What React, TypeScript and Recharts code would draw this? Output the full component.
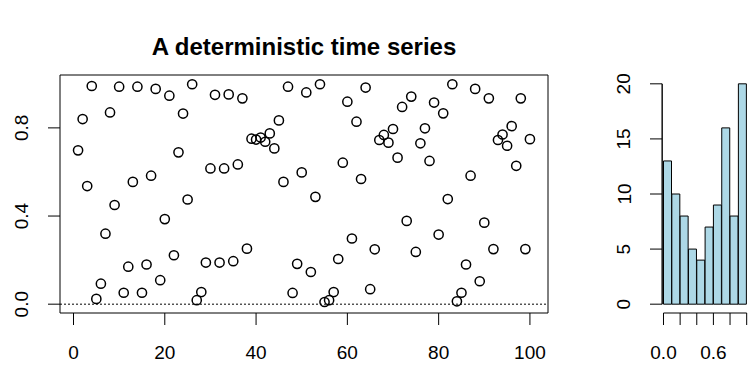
import {
  ScatterChart,
  Scatter,
  BarChart,
  Bar,
  XAxis,
  YAxis,
  ReferenceLine,
  ReferenceArea,
} from 'recharts';

// logistic-looking series
const seriesValues = [
  0.698, 0.84, 0.536, 0.99, 0.024, 0.093, 0.32, 0.87, 0.45, 0.987,
  0.052, 0.17, 0.555, 0.987, 0.052, 0.18, 0.583, 0.977, 0.109, 0.386,
  0.946, 0.222, 0.689, 0.865, 0.475, 0.998, 0.018, 0.055, 0.189, 0.616,
  0.95, 0.189, 0.616, 0.952, 0.195, 0.634, 0.934, 0.252, 0.751, 0.747,
  0.756, 0.737, 0.775, 0.707, 0.834, 0.555, 0.987, 0.051, 0.183, 0.598,
  0.961, 0.146, 0.487, 0.998, 0.01, 0.018, 0.055, 0.205, 0.642, 0.919,
  0.298, 0.828, 0.568, 0.983, 0.068, 0.249, 0.745, 0.768, 0.733, 0.795,
  0.665, 0.895, 0.378, 0.942, 0.237, 0.73, 0.798, 0.65, 0.915, 0.316,
  0.866, 0.477, 0.998, 0.013, 0.052, 0.18, 0.583, 0.977, 0.104, 0.37,
  0.934, 0.25, 0.745, 0.77, 0.719, 0.808, 0.628, 0.934, 0.25, 0.749,
];

const xTicks = [0, 20, 40, 60, 80, 100];
const yTicks = [0, 0.4, 0.8];
const yTickLabels = ['0.0', '0.4', '0.8'];

const binStarts = [0, 0.1, 0.2, 0.3, 0.4, 0.5, 0.6, 0.7, 0.8, 0.9];
const binCounts = [13, 10, 8, 5, 4, 7, 9, 16, 8, 20];
const histXTicks = [0, 0.2, 0.4, 0.6, 0.8, 1.0];
const histXLabels = ['0.0', '', '', '0.6', '', ''];
const histYTicks = [0, 5, 10, 15, 20];

const FONT = '"Liberation Sans", Arial, Helvetica, sans-serif';
const TICK_FONT = 19;

const points = seriesValues.map((v, i) => ({ t: i + 1, v }));
const histData = binStarts.map((start, i) => ({
  bin: String(i),
  mid: start + 0.05,
  count: binCounts[i],
}));

function OpenCircle(props: any) {
  const { cx, cy } = props;
  return <circle cx={cx} cy={cy} r={4.6} fill="none" stroke="#000" strokeWidth={1.5} />;
}

function RotatedTick(labels: (string | number)[]) {
  return (props: any) => {
    const { x, y, index } = props;
    const cx = x - 26;
    return (
      <text
        x={cx}
        y={y}
        transform={`rotate(-90, ${cx}, ${y})`}
        textAnchor="middle"
        dominantBaseline="central"
        fontFamily={FONT}
        fontSize={TICK_FONT}
        fill="#000"
      >
        {labels[index]}
      </text>
    );
  };
}

function BottomTick(labels: (string | number)[]) {
  return (props: any) => {
    const { x, y, index } = props;
    return (
      <text
        x={x}
        y={y + 27}
        textAnchor="middle"
        dominantBaseline="central"
        fontFamily={FONT}
        fontSize={TICK_FONT}
        fill="#000"
      >
        {labels[index]}
      </text>
    );
  };
}

export default function App() {
  return (
    <div style={{ position: 'absolute', left: 0, top: 0, width: 751, height: 366, background: '#fff' }}>
      <div
        style={{
          position: 'absolute',
          left: 60,
          width: 488,
          top: 32,
          textAlign: 'center',
          fontFamily: FONT,
          fontWeight: 'bold',
          fontSize: 24,
          lineHeight: '30px',
          color: '#000',
        }}
      >
        A deterministic time series
      </div>

      <div style={{ position: 'absolute', left: 0, top: 0 }}>
        <ScatterChart width={560} height={366} margin={{ top: 75, right: 12, bottom: 13, left: 10 }}>
          <XAxis
            dataKey="t"
            type="number"
            domain={[-2.96, 103.96]}
            ticks={xTicks}
            interval={0}
            axisLine={false}
            tickSize={12}
            tickMargin={0}
            tickLine={{ stroke: '#000' }}
            height={40}
            tick={BottomTick(xTicks)}
          />
          <YAxis
            dataKey="v"
            type="number"
            domain={[-0.04, 1.04]}
            ticks={yTicks}
            interval={0}
            axisLine={false}
            tickSize={12}
            tickMargin={0}
            tickLine={{ stroke: '#000' }}
            width={50}
            tick={RotatedTick(yTickLabels)}
          />
          <ReferenceLine y={0} stroke="#000" strokeDasharray="2 2" strokeWidth={1} />
          <ReferenceArea x1={-2.96} x2={103.96} y1={-0.04} y2={1.04} fill="none" stroke="#000" strokeWidth={1} />
          <Scatter data={points} shape={OpenCircle} isAnimationActive={false} />
        </ScatterChart>
      </div>

      <div style={{ position: 'absolute', left: 600, top: 0 }}>
        <BarChart
          width={151}
          height={366}
          data={histData}
          barCategoryGap={0}
          margin={{ top: 75, right: 1, bottom: 13, left: 12 }}
        >
          <XAxis
            xAxisId="cat"
            dataKey="bin"
            hide
            orientation="top"
            height={0}
            padding={{ left: 1.5, right: 3.3 }}
          />
          <XAxis
            xAxisId="num"
            dataKey="mid"
            type="number"
            domain={[-0.018, 1.04]}
            allowDataOverflow
            ticks={histXTicks}
            interval={0}
            axisLine={false}
            tickSize={12}
            tickMargin={0}
            tickLine={{ stroke: '#000' }}
            height={40}
            tick={BottomTick(histXLabels)}
          />
          <YAxis
            type="number"
            domain={[-0.8, 20.8]}
            ticks={histYTicks}
            interval={0}
            axisLine={false}
            tickSize={12}
            tickMargin={0}
            tickLine={{ stroke: '#000' }}
            width={50}
            tick={RotatedTick(histYTicks)}
          />
          <ReferenceLine
            xAxisId="num"
            segment={[{ x: 0, y: -0.8 }, { x: 1, y: -0.8 }]}
            stroke="#000"
            strokeWidth={1.2}
            ifOverflow="visible"
          />
          <ReferenceLine
            xAxisId="num"
            segment={[{ x: -0.016, y: 0 }, { x: -0.016, y: 20 }]}
            stroke="#000"
            strokeWidth={1.4}
            ifOverflow="visible"
          />
          <Bar xAxisId="cat" dataKey="count" fill="#add8e6" stroke="#000" strokeWidth={1} isAnimationActive={false} />
        </BarChart>
      </div>
    </div>
  );
}
